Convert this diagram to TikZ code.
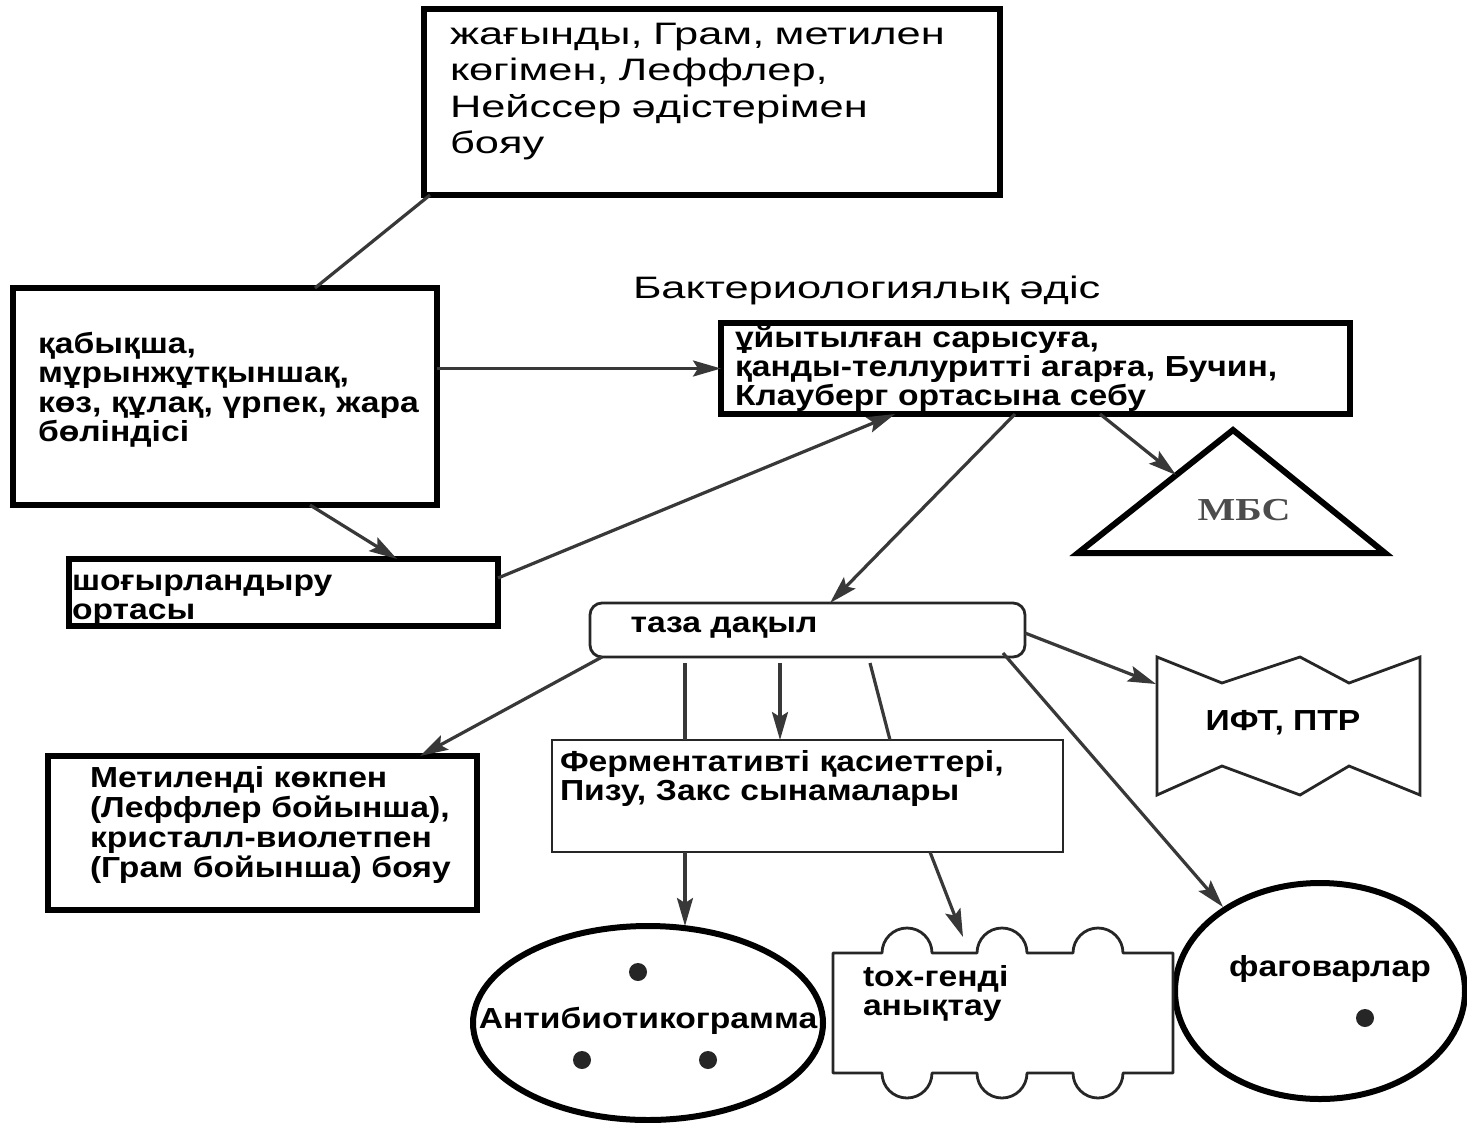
\documentclass[tikz,border=0pt]{standalone}
\usepackage{fontspec}
\setmainfont{Liberation Sans}[FakeStretch=1.16]
\newfontfamily\wideR{Liberation Sans}[FakeStretch=1.4]
\newfontfamily\mbsfont{Liberation Serif}[FakeStretch=1.25]
\usetikzlibrary{arrows.meta,shapes.geometric,calc}
\begin{document}
\begin{tikzpicture}[x=1pt,y=-1pt,
  heavy/.style={draw=black,line width=6pt,inner sep=0pt,outer sep=0pt,anchor=north west},
  light/.style={draw=black!85,line width=2.8pt,inner sep=0pt,outer sep=0pt,anchor=north west},
  ring/.style={draw=black,line width=6pt,ellipse,inner sep=0pt,outer sep=0pt},
  conn/.style={draw=black!78,line width=3.2pt},
  arr/.style={conn,-{Stealth[length=28pt,width=16pt,inset=5pt]}},
  btxt/.style={inner sep=0pt,outer sep=0pt,anchor=base west,align=left,text width=700pt},
  ctxt/.style={inner sep=0pt,outer sep=0pt,anchor=base,font=\fontsize{29}{29}\selectfont\bfseries},
  dot/.style={fill=black!85}
]
\fill[white] (0,0) rectangle (1467,1122);
\useasboundingbox (0,0) rectangle (1467,1122);

% boxes
\node[heavy,minimum width=576pt,minimum height=186pt] (top) at (424,9) {};
\node[heavy,minimum width=424pt,minimum height=217pt] (src) at (13,288) {};
\node[heavy,minimum width=629pt,minimum height=91pt] (seb) at (721,323) {};
\node[heavy,minimum width=429pt,minimum height=67pt] (shog) at (69,559) {};
\node[light,rounded corners=12pt,minimum width=435pt,minimum height=54pt] (taza) at (590,603) {};
\node[heavy,minimum width=429pt,minimum height=154pt] (metil) at (48,756) {};
\node[light,minimum width=511pt,minimum height=112pt] (ferm) at (552,740) {};
\node[ring,minimum width=350pt,minimum height=194pt] (anti) at (648,1023) {};
\node[ring,minimum width=290pt,minimum height=216pt] (fag) at (1320,991) {};
\node[inner sep=0pt,outer sep=0pt,anchor=north west,minimum width=340pt,minimum height=120pt] (tox) at (833,953) {};

% tox outline with bumps
\draw[draw=black!85,line width=2.8pt,line join=round]
  (833,953) -- (882,953) arc[start angle=180,end angle=360,radius=25]
  -- (977,953) arc[start angle=180,end angle=360,radius=25]
  -- (1073,953) arc[start angle=180,end angle=360,radius=25]
  -- (1173,953) -- (1173,1073) -- (1123,1073)
  arc[start angle=0,end angle=180,radius=25] -- (1027,1073)
  arc[start angle=0,end angle=180,radius=25] -- (932,1073)
  arc[start angle=0,end angle=180,radius=25] -- (833,1073) -- cycle;

% MBS triangle
\draw[line width=6pt,line join=miter] (1233,430) -- (1385,553) -- (1078,553) -- cycle;
\coordinate (mbsL) at (1176,475);
% IFT shape
\draw[draw=black!85,line width=2.8pt,line join=miter]
  (1157,657) -- (1222,683) -- (1300,657) -- (1349,683) -- (1420,657)
  -- (1420,795) -- (1349,766) -- (1300,795) -- (1222,766) -- (1157,795) -- cycle;
\coordinate (iftL) at (1156,684);
\coordinate (fagT) at (1223,907);

% texts
\node[btxt,font=\wideR\fontsize{31}{36.5}\selectfont] (toptxt) at (450,44)
  {жағынды, Грам, метилен\\көгімен, Леффлер,\\Нейссер әдістерімен\\бояу};
\node[btxt,font=\wideR\fontsize{31}{36}\selectfont] (bakt) at (633,298) {Бактериологиялық әдіс};
\node[btxt,font=\fontsize{29}{29.5}\selectfont\bfseries] (srctxt) at (38,353)
  {қабықша,\\мұрынжұтқыншақ,\\көз, құлақ, үрпек, жара\\бөліндісі};
\node[btxt,font=\fontsize{29}{29}\selectfont\bfseries] (sebtxt) at (735,347)
  {ұйытылған сарысуға,\\қанды-теллуритті агарға, Бучин,\\Клауберг ортасына себу};
\node[btxt,font=\fontsize{29}{29.5}\selectfont\bfseries] (shogtxt) at (72,590)
  {шоғырландыру\\ортасы};
\node[ctxt] (tazatxt) at (724,632) {таза дақыл};
\node[btxt,font=\fontsize{29}{30}\selectfont\bfseries] (metiltxt) at (90,787)
  {Метиленді көкпен\\(Леффлер бойынша),\\кристалл-виолетпен\\(Грам бойынша) бояу};
\node[btxt,font=\fontsize{29}{29}\selectfont\bfseries] (fermtxt) at (560,771)
  {Ферментативті қасиеттері,\\Пизу, Закс сынамалары};
\node[ctxt] (antitxt) at (648,1028) {Антибиотикограмма};
\node[btxt,font=\fontsize{29}{29.5}\selectfont\bfseries] (toxtxt) at (863,986)
  {tox-генді\\анықтау};
\node[ctxt] (fagtxt) at (1330,976) {фаговарлар};
\node[ctxt] (ifttxt) at (1283,730) {ИФТ, ПТР};
\node[inner sep=0pt,anchor=base,text=black!70,font=\mbsfont\fontsize{32}{34}\selectfont\bfseries] (mbstxt) at (1244,520) {МБС};

% dots
\fill[dot] (638,972) circle (9);
\fill[dot] (582,1060) circle (9);
\fill[dot] (708,1060) circle (9);
\fill[dot] (1365,1018) circle (9);

% connectors
\draw[conn] ($(top.south west)+(6,0)$) -- ($(src.north west)+(302,0)$);
\draw[arr] (seb.west -| src.east) -- (seb.west);
\draw[arr] ($(src.south west)+(297,0)$) -- ($(shog.north west)+(328,0)$);
\draw[arr] ($(shog.north east)+(0,19)$) -- ($(seb.south west)+(174,0)$);
\draw[arr] ($(seb.south west)+(294,0)$) -- ($(taza.north west)+(240,0)$);
\draw[arr] ($(seb.south west)+(379,0)$) -- (mbsL);
\draw[arr] ($(taza.south west)+(12,0)$) -- ($(metil.north west)+(372,0)$);
\draw[conn] ($(taza.south west)+(95,6)$) -- ($(ferm.north west)+(133,0)$);
\draw[arr] ($(taza.south west)+(190,6)$) -- ($(ferm.north west)+(228,0)$);
\draw[conn] ($(taza.south west)+(280,6)$) -- ($(ferm.north west)+(338,0)$);
\draw[arr] ($(taza.north east)+(0,30)$) -- (iftL);
\draw[arr] ($(taza.south east)+(-22,-4)$) -- (fagT);
\draw[arr] ($(ferm.south west)+(133,0)$) -- (anti.north -| 685,0);
\draw[arr] ($(ferm.south west)+(378,0)$) -- ($(tox.north west)+(130,-16)$);
\end{tikzpicture}
\end{document}
